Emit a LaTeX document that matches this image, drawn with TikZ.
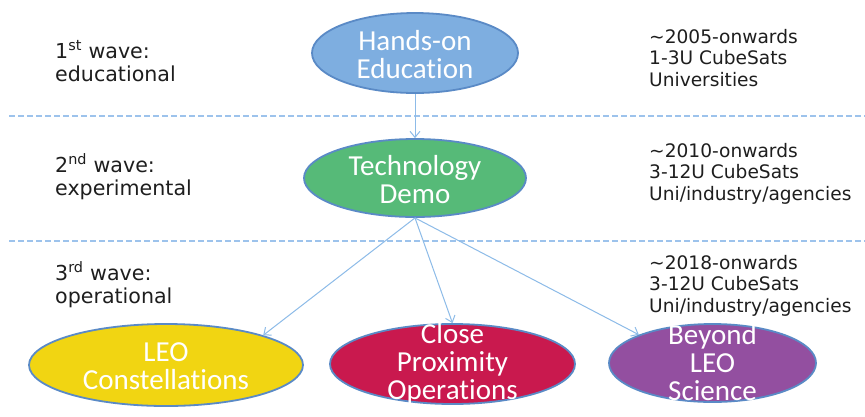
\documentclass[tikz,border=0pt]{standalone}
\usepackage{fontspec}
\setmainfont{DejaVu Sans}
\newfontfamily\ellfont[Ligatures=NoCommon]{Carlito}
\usetikzlibrary{arrows.meta,shapes.geometric}
\definecolor{bordblue}{HTML}{5A8AC6}
\definecolor{linkblue}{HTML}{8DBBE8}
\definecolor{dashblue}{HTML}{9DC3EC}
\definecolor{handsfill}{HTML}{7EAEE0}
\definecolor{techfill}{HTML}{56BA78}
\definecolor{leofill}{HTML}{F1D512}
\definecolor{closefill}{HTML}{C9194E}
\definecolor{beyondfill}{HTML}{934FA0}
\definecolor{txtgray}{HTML}{1E1E1E}
\begin{document}
\begin{tikzpicture}[x=1pt,y=-1pt,
  ell/.style={ellipse, draw=bordblue, line width=1.8pt, inner sep=0pt},
  elltext/.style={font=\ellfont\fontsize{29}{28}\selectfont, text=white, align=center, inner sep=0pt},
  lefttext/.style={font=\fontsize{20.6}{23.5}\selectfont, align=left, anchor=base west, inner sep=0pt, text=txtgray},
  righttext/.style={font=\fontsize{18.6}{21.8}\selectfont, align=left, anchor=base west, inner sep=0pt, text=txtgray},
  sep/.style={draw=dashblue, line width=1.4pt, dash pattern=on 5.5pt off 3.5pt},
  conn/.style={draw=linkblue, line width=1pt, -{Straight Barb[length=6pt,width=10pt]}}
]
\path[use as bounding box, fill=white] (0,0) rectangle (865,416);

% separators
\coordinate (d1a) at (9,116);
\coordinate (d1b) at (865,116);
\coordinate (d2a) at (9,241);
\coordinate (d2b) at (865,241);
\draw[sep] (d1a) -- (d1b);
\draw[sep] (d2a) -- (d2b);

% ellipses
\node[ell, fill=handsfill, minimum width=206pt, minimum height=80pt] (hands) at (415,53) {};
\node[ell, fill=techfill, minimum width=222pt, minimum height=78pt] (tech) at (415,178) {};
\node[ell, fill=leofill, minimum width=274pt, minimum height=82pt] (leo) at (166,365) {};
\node[ell, fill=closefill, minimum width=245pt, minimum height=80pt] (close) at (452.5,364) {};
\node[ell, fill=beyondfill, minimum width=207pt, minimum height=78pt] (beyond) at (712.5,363) {};

% ellipse texts
\node[elltext] (handst) at ([yshift=-1.5pt]hands.center) {Hands-on\\Education};
\node[elltext] (techt) at ([yshift=-1.5pt]tech.center) {Technology\\Demo};
\node[elltext] (leot) at ([yshift=-1pt]leo.center) {LEO\\Constellations};
\node[elltext] (closet) at (close.center) {Close\\Proximity\\Operations};
\node[elltext] (beyondt) at (beyond.center) {Beyond\\LEO\\Science};

% connectors
\draw[conn] (hands.south) -- (tech.north);
\draw[conn] (tech.south) -- (leo.17);
\draw[conn] (tech.south) -- (close.north);
\draw[conn] (tech.south) -- (beyond.159);

% left labels (base = last line)
\node[lefttext] (w1) at (55,81.5) {1\textsuperscript{st} wave:\\educational};
\node[lefttext] (w2) at (55,195.5) {2\textsuperscript{nd} wave:\\experimental};
\node[lefttext] (w3) at (55,303.5) {3\textsuperscript{rd} wave:\\operational};

% right labels (base = last line)
\node[righttext] (r1) at (649,86.6) {\textasciitilde2005-onwards\\1-3U CubeSats\\Universities};
\node[righttext] (r2) at (649,200.6) {\textasciitilde2010-onwards\\3-12U CubeSats\\Uni/industry/agencies};
\node[righttext] (r3) at (649,312.6) {\textasciitilde2018-onwards\\3-12U CubeSats\\Uni/industry/agencies};
\end{tikzpicture}
\end{document}
